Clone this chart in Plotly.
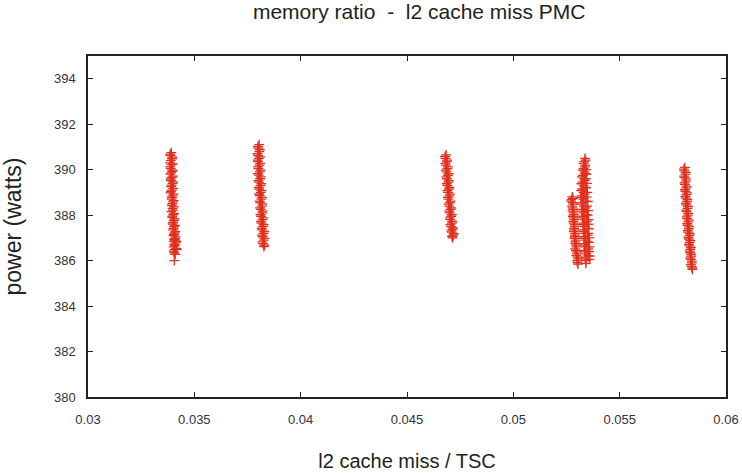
import plotly.graph_objects as go

# Measured samples: l2 cache miss rate (per TSC tick) vs. power draw (watts)
c1_x = [0.03392, 0.03388, 0.03395, 0.03386, 0.03393, 0.03389, 0.03396, 0.03387, 0.03394, 0.03390,
        0.03398, 0.03391, 0.03395, 0.03388, 0.03397, 0.03393, 0.03400, 0.03394, 0.03398, 0.03392,
        0.03401, 0.03396, 0.03403, 0.03398, 0.03405, 0.03400, 0.03407, 0.03402, 0.03409, 0.03404,
        0.03406, 0.03402, 0.03408, 0.03405, 0.03406, 0.03410,
        0.03386, 0.03397, 0.03389, 0.03398, 0.03387, 0.03397, 0.03391, 0.03399, 0.03389, 0.03400,
        0.03393, 0.03401, 0.03390, 0.03402, 0.03395, 0.03403, 0.03396, 0.03404, 0.03399, 0.03405,
        0.03397, 0.03406, 0.03400, 0.03409, 0.03402, 0.03411, 0.03404, 0.03412, 0.03405, 0.03413,
        0.03408, 0.03414, 0.03403, 0.03410, 0.03415, 0.03418]
c1_y = [390.75, 390.62, 390.48, 390.30, 390.21, 390.05, 389.93, 389.80, 389.66, 389.52,
        389.40, 389.25, 389.10, 388.98, 388.85, 388.70, 388.58, 388.42, 388.30, 388.15,
        388.02, 387.90, 387.76, 387.61, 387.50, 387.35, 387.22, 387.10, 386.98, 386.85,
        386.72, 386.60, 386.48, 386.35, 386.00, 386.90,
        390.68, 390.55, 390.40, 390.25, 390.12, 389.98, 389.86, 389.72, 389.59, 389.46,
        389.32, 389.18, 389.04, 388.92, 388.78, 388.64, 388.50, 388.36, 388.22, 388.08,
        387.96, 387.83, 387.68, 387.55, 387.42, 387.28, 387.16, 387.04, 386.92, 386.78,
        386.66, 386.54, 386.42, 386.28, 386.85, 386.50]

c2_x = [0.03805, 0.03802, 0.03806, 0.03800, 0.03804, 0.03799, 0.03806, 0.03801, 0.03808, 0.03803,
        0.03809, 0.03804, 0.03811, 0.03806, 0.03813, 0.03808, 0.03815, 0.03810, 0.03817, 0.03812,
        0.03819, 0.03814, 0.03821, 0.03816, 0.03823, 0.03818, 0.03825, 0.03821, 0.03826, 0.03823,
        0.03827,
        0.03799, 0.03808, 0.03797, 0.03809, 0.03798, 0.03810, 0.03800, 0.03812, 0.03799, 0.03813,
        0.03801, 0.03815, 0.03803, 0.03816, 0.03805, 0.03818, 0.03807, 0.03820, 0.03809, 0.03822,
        0.03811, 0.03824, 0.03813, 0.03826, 0.03816, 0.03828, 0.03818, 0.03830, 0.03820, 0.03830]
c2_y = [391.10, 390.95, 390.80, 390.62, 390.50, 390.35, 390.20, 390.05, 389.90, 389.76,
        389.60, 389.45, 389.30, 389.15, 389.00, 388.86, 388.70, 388.55, 388.40, 388.25,
        388.10, 387.95, 387.80, 387.65, 387.50, 387.35, 387.20, 387.05, 386.90, 386.75,
        386.62,
        391.02, 390.88, 390.70, 390.56, 390.42, 390.28, 390.12, 389.98, 389.83, 389.68,
        389.52, 389.38, 389.22, 389.08, 388.93, 388.78, 388.62, 388.48, 388.32, 388.18,
        388.02, 387.88, 387.72, 387.58, 387.42, 387.28, 387.12, 386.98, 386.82, 386.68]

c3_x = [0.04684, 0.04681, 0.04687, 0.04683, 0.04690, 0.04686, 0.04692, 0.04688, 0.04694, 0.04690,
        0.04697, 0.04693, 0.04699, 0.04695, 0.04702, 0.04698, 0.04705, 0.04701, 0.04708, 0.04704,
        0.04711, 0.04707, 0.04714, 0.04711, 0.04717, 0.04715,
        0.04679, 0.04689, 0.04680, 0.04692, 0.04682, 0.04695, 0.04685, 0.04697, 0.04687, 0.04700,
        0.04690, 0.04702, 0.04692, 0.04705, 0.04695, 0.04708, 0.04698, 0.04711, 0.04701, 0.04713,
        0.04704, 0.04717, 0.04708, 0.04720, 0.04712]
c3_y = [390.65, 390.50, 390.35, 390.20, 390.05, 389.90, 389.75, 389.60, 389.45, 389.30,
        389.15, 389.00, 388.85, 388.70, 388.55, 388.40, 388.25, 388.10, 387.95, 387.80,
        387.65, 387.50, 387.38, 387.25, 387.12, 387.00,
        390.58, 390.42, 390.28, 390.12, 389.98, 389.82, 389.68, 389.52, 389.38, 389.22,
        389.08, 388.92, 388.78, 388.62, 388.48, 388.32, 388.18, 388.02, 387.88, 387.72,
        387.58, 387.44, 387.31, 387.18, 387.06]

c4_x = [0.05277, 0.05274, 0.05279, 0.05276, 0.05281, 0.05283, 0.05280, 0.05286, 0.05284, 0.05289,
        0.05287, 0.05291, 0.05289, 0.05294, 0.05292, 0.05297, 0.05295, 0.05299, 0.05302, 0.05300,
        0.05304,
        0.05280, 0.05272, 0.05282, 0.05279, 0.05278, 0.05285, 0.05283, 0.05282, 0.05288, 0.05286,
        0.05284, 0.05290, 0.05287, 0.05291, 0.05296, 0.05290, 0.05298, 0.05296, 0.05305, 0.05301]
c4_y = [388.80, 388.68, 388.55, 388.40, 388.25, 388.10, 387.95, 387.80, 387.65, 387.50,
        387.35, 387.20, 387.05, 386.90, 386.75, 386.60, 386.45, 386.30, 386.15, 386.00,
        385.85,
        388.74, 388.62, 388.48, 388.32, 388.18, 388.02, 387.88, 387.72, 387.58, 387.42,
        387.28, 387.12, 386.98, 386.82, 386.68, 386.52, 386.38, 386.22, 386.08, 385.92]

c5_x = [0.05337, 0.05334, 0.05338, 0.05331, 0.05335, 0.05328, 0.05333, 0.05326, 0.05331, 0.05324,
        0.05330, 0.05323, 0.05329, 0.05324, 0.05331, 0.05326, 0.05333, 0.05328, 0.05335, 0.05331,
        0.05337, 0.05333, 0.05339, 0.05335, 0.05341, 0.05337, 0.05342, 0.05339, 0.05343, 0.05340,
        0.05342, 0.05341,
        0.05340, 0.05330, 0.05336, 0.05327, 0.05338, 0.05322, 0.05336, 0.05320, 0.05338, 0.05319,
        0.05336, 0.05318, 0.05339, 0.05320, 0.05340, 0.05322, 0.05343, 0.05325, 0.05345, 0.05328,
        0.05347, 0.05330, 0.05349, 0.05332, 0.05350, 0.05334, 0.05352, 0.05336, 0.05352, 0.05338]
c5_y = [390.50, 390.35, 390.20, 390.05, 389.90, 389.75, 389.60, 389.45, 389.30, 389.15,
        389.00, 388.85, 388.70, 388.55, 388.40, 388.25, 388.10, 387.95, 387.80, 387.65,
        387.50, 387.35, 387.20, 387.05, 386.90, 386.75, 386.60, 386.45, 386.30, 386.15,
        386.00, 385.88,
        390.42, 390.28, 390.12, 389.98, 389.82, 389.68, 389.52, 389.38, 389.22, 389.08,
        388.92, 388.78, 388.62, 388.48, 388.32, 388.18, 388.02, 387.88, 387.72, 387.58,
        387.42, 387.28, 387.12, 386.98, 386.82, 386.68, 386.52, 386.38, 386.22, 386.08]

c6_x = [0.05343, 0.05345, 0.05341, 0.05346, 0.05343, 0.05348, 0.05345, 0.05350, 0.05347, 0.05352,
        0.05349, 0.05354, 0.05351, 0.05355, 0.05353, 0.05357, 0.05355, 0.05358, 0.05356, 0.05359,
        0.05358]
c6_y = [390.00, 389.80, 389.60, 389.40, 389.20, 389.00, 388.80, 388.60, 388.40, 388.20,
        388.00, 387.80, 387.60, 387.40, 387.20, 387.00, 386.80, 386.60, 386.40, 386.20,
        386.05]

c7_x = [0.05807, 0.05804, 0.05809, 0.05805, 0.05811, 0.05807, 0.05813, 0.05809, 0.05815, 0.05811,
        0.05817, 0.05813, 0.05819, 0.05815, 0.05821, 0.05817, 0.05823, 0.05820, 0.05825, 0.05822,
        0.05828, 0.05825, 0.05830, 0.05828, 0.05833, 0.05831, 0.05836, 0.05834, 0.05839, 0.05838,
        0.05842,
        0.05802, 0.05811, 0.05803, 0.05813, 0.05805, 0.05815, 0.05807, 0.05817, 0.05809, 0.05819,
        0.05811, 0.05821, 0.05813, 0.05823, 0.05815, 0.05825, 0.05818, 0.05827, 0.05820, 0.05830,
        0.05823, 0.05832, 0.05826, 0.05835, 0.05829, 0.05837, 0.05832, 0.05840, 0.05835, 0.05841]
c7_y = [390.10, 389.95, 389.80, 389.65, 389.50, 389.35, 389.20, 389.05, 388.90, 388.75,
        388.60, 388.45, 388.30, 388.15, 388.00, 387.85, 387.70, 387.55, 387.40, 387.25,
        387.10, 386.95, 386.80, 386.65, 386.50, 386.35, 386.20, 386.05, 385.90, 385.75,
        385.62,
        390.02, 389.88, 389.72, 389.58, 389.42, 389.28, 389.12, 388.98, 388.82, 388.68,
        388.52, 388.38, 388.22, 388.08, 387.92, 387.78, 387.62, 387.48, 387.32, 387.18,
        387.02, 386.88, 386.72, 386.58, 386.42, 386.28, 386.12, 385.98, 385.82, 385.68]

x_ticks = [0.03, 0.035, 0.04, 0.045, 0.05, 0.055, 0.06]
x_labels = ["0.03", "0.035", "0.04", "0.045", "0.05", "0.055", "0.06"]
y_ticks = [380, 382, 384, 386, 388, 390, 392, 394]

xs = c1_x + c2_x + c3_x + c4_x + c5_x + c6_x + c7_x
ys = c1_y + c2_y + c3_y + c4_y + c5_y + c6_y + c7_y

FONT = "Liberation Sans, Arial, sans-serif"
INK = "#222222"

fig = go.Figure()
fig.add_trace(go.Scatter(
    x=xs, y=ys, mode="markers",
    marker=dict(symbol="cross-thin", size=7, color="#e0301e",
                line=dict(color="#e0301e", width=1.3)),
    showlegend=False,
))

axis_common = dict(
    showline=True, linecolor=INK, linewidth=1.5, mirror="allticks",
    ticks="inside", ticklen=5, tickwidth=1, tickcolor=INK,
    showgrid=False, zeroline=False, automargin=False,
    tickfont=dict(family=FONT, size=13, color="#333333"),
)

fig.update_layout(
    width=742, height=473,
    margin=dict(l=88, r=16, t=56, b=76),
    paper_bgcolor="white", plot_bgcolor="white",
    title=dict(text="memory ratio  -  l2 cache miss PMC", x=0.565, xanchor="center",
               y=0.976, yanchor="middle",
               font=dict(family=FONT, size=21, color=INK)),
    xaxis=dict(range=[0.03, 0.06], tickvals=x_ticks, ticktext=x_labels,
               ticklabelstandoff=10,
               title=dict(text="l2 cache miss / TSC", standoff=28,
                          font=dict(family=FONT, size=20, color=INK)),
               **axis_common),
    yaxis=dict(range=[380, 395], tickvals=y_ticks,
               ticklabelstandoff=8,
               title=dict(text="power (watts)", standoff=26,
                          font=dict(family=FONT, size=23, color=INK)),
               **axis_common),
)

fig.write_html("out.html")
